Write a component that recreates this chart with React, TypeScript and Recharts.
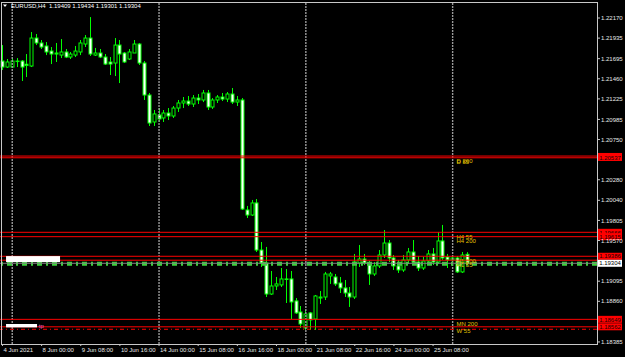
import { ComposedChart, Bar, XAxis, YAxis, ReferenceLine, ReferenceDot } from 'recharts'

// EURUSD H4, 4 Jun 2021 16:00 .. 28 Jun 2021 12:00
const OPEN = [
  1.21667, 1.21597, 1.21597, 1.21662, 1.21667, 1.21630, 1.21609, 1.21936, 1.21878, 1.21843,
  1.21784, 1.21761, 1.21737, 1.21773, 1.21714, 1.21737, 1.21773, 1.21866, 1.21936, 1.21737,
  1.21761, 1.21714, 1.21656, 1.21644, 1.21854, 1.21761, 1.21691, 1.21761, 1.21866, 1.21644,
  1.21270, 1.20955, 1.21037, 1.21002, 1.21060, 1.21025, 1.21118, 1.21177, 1.21200, 1.21165,
  1.21235, 1.21212, 1.21294, 1.21130, 1.21212, 1.21247, 1.21223, 1.21282, 1.21188, 1.21212,
  1.19927, 1.19868, 1.20009, 1.19459, 1.19308, 1.18945, 1.19039, 1.19051, 1.19121, 1.19121,
  1.18864, 1.18735, 1.18548, 1.18724, 1.18653, 1.18898, 1.18910, 1.19156, 1.19144, 1.19074,
  1.19016, 1.18957, 1.18910, 1.19308, 1.19354, 1.19308, 1.19179, 1.19273, 1.19401, 1.19541,
  1.19366, 1.19273, 1.19226, 1.19343, 1.19436, 1.19319, 1.19249, 1.19331, 1.19413, 1.19319,
  1.19565, 1.19378, 1.19343, 1.19366, 1.19203, 1.19409,
]
const HIGH = [
  1.21854, 1.21691, 1.21702, 1.21702, 1.21679, 1.21749, 1.22006, 1.21983, 1.21913, 1.21889,
  1.21831, 1.21878, 1.21924, 1.21808, 1.21773, 1.21843, 1.21913, 1.21971, 1.22181, 1.21820,
  1.21808, 1.21749, 1.21714, 1.21936, 1.21913, 1.21773, 1.21808, 1.21913, 1.21878, 1.21667,
  1.21294, 1.21095, 1.21118, 1.21095, 1.21118, 1.21142, 1.21212, 1.21247, 1.21259, 1.21270,
  1.21282, 1.21329, 1.21329, 1.21235, 1.21270, 1.21294, 1.21305, 1.21352, 1.21259, 1.21235,
  1.19974, 1.20044, 1.20055, 1.19553, 1.19495, 1.19214, 1.19144, 1.19249, 1.19237, 1.19214,
  1.18898, 1.18805, 1.18758, 1.18735, 1.18934, 1.18980, 1.19203, 1.19203, 1.19179, 1.19144,
  1.19109, 1.19027, 1.19413, 1.19518, 1.19413, 1.19331, 1.19319, 1.19459, 1.19693, 1.19576,
  1.19401, 1.19343, 1.19401, 1.19483, 1.19576, 1.19389, 1.19378, 1.19459, 1.19483, 1.19670,
  1.19752, 1.19413, 1.19389, 1.19389, 1.19436, 1.19434,
]
const LOW = [
  1.21562, 1.21586, 1.21586, 1.21597, 1.21434, 1.21480, 1.21597, 1.21854, 1.21808, 1.21737,
  1.21632, 1.21656, 1.21702, 1.21702, 1.21691, 1.21714, 1.21737, 1.21831, 1.21726, 1.21726,
  1.21702, 1.21621, 1.21504, 1.21492, 1.21410, 1.21644, 1.21679, 1.21761, 1.21621, 1.21212,
  1.20908, 1.20908, 1.20955, 1.20955, 1.20978, 1.21002, 1.21072, 1.21118, 1.21142, 1.21130,
  1.21165, 1.21188, 1.21095, 1.21107, 1.21177, 1.21200, 1.21188, 1.21165, 1.21142, 1.19927,
  1.19833, 1.19857, 1.19436, 1.19261, 1.18910, 1.18934, 1.18992, 1.19027, 1.18840, 1.18653,
  1.18712, 1.18548, 1.18525, 1.18525, 1.18525, 1.18829, 1.18875, 1.19063, 1.19039, 1.18957,
  1.18910, 1.18794, 1.18887, 1.19261, 1.19284, 1.19051, 1.19156, 1.19249, 1.19366, 1.19319,
  1.19226, 1.19191, 1.19203, 1.19296, 1.19284, 1.19214, 1.19226, 1.19296, 1.19284, 1.19296,
  1.19343, 1.19249, 1.19284, 1.19191, 1.19191, 1.19301,
]
const CLOSE = [
  1.21597, 1.21656, 1.21667, 1.21667, 1.21597, 1.21615, 1.21936, 1.21878, 1.21831, 1.21773,
  1.21749, 1.21749, 1.21773, 1.21714, 1.21749, 1.21784, 1.21878, 1.21936, 1.21749, 1.21761,
  1.21714, 1.21632, 1.21632, 1.21854, 1.21749, 1.21656, 1.21773, 1.21866, 1.21644, 1.21270,
  1.20943, 1.21049, 1.20990, 1.21060, 1.21025, 1.21118, 1.21177, 1.21200, 1.21165, 1.21235,
  1.21212, 1.21294, 1.21130, 1.21212, 1.21247, 1.21223, 1.21282, 1.21188, 1.21212, 1.19938,
  1.19868, 1.20009, 1.19459, 1.19308, 1.18945, 1.19039, 1.19063, 1.19121, 1.19116, 1.18852,
  1.18724, 1.18595, 1.18712, 1.18642, 1.18922, 1.18910, 1.19179, 1.19179, 1.19063, 1.19016,
  1.18957, 1.18910, 1.19319, 1.19354, 1.19308, 1.19179, 1.19273, 1.19401, 1.19541, 1.19366,
  1.19273, 1.19226, 1.19343, 1.19436, 1.19319, 1.19249, 1.19331, 1.19413, 1.19319, 1.19565,
  1.19366, 1.19343, 1.19366, 1.19203, 1.19401, 1.19304,
]

const SHIFT_SLOTS = 26 // empty space right of the last bar (chart shift)

const TICK_INDEX = [0, 8, 16, 24, 32, 40, 48, 56, 64, 72, 80, 88]
const TICK_LABELS = [
  '4 Jun 2021', '8 Jun 00:00', '9 Jun 08:00', '10 Jun 16:00', '14 Jun 00:00', '15 Jun 08:00',
  '16 Jun 16:00', '18 Jun 00:00', '21 Jun 08:00', '22 Jun 16:00', '24 Jun 00:00', '25 Jun 08:00',
]
const WEEK_SEPARATORS = [2, 32, 62, 92]

const PRICE_TICKS = [
  1.2217, 1.21935, 1.21695, 1.2146, 1.21225, 1.20985, 1.2075,
  1.2028, 1.2004, 1.19805, 1.1957, 1.19095, 1.1886, 1.18385,
]
const PRICE_MIN = 1.18361
const PRICE_MAX = 1.22357

// moving-average levels drawn as horizontal lines
const LEVELS = [1.20557, 1.20537, 1.19666, 1.19615, 1.19386, 1.1934, 1.18649, 1.18562]
const LEVEL_NAMES = ['D 200', 'D 55', 'H4 55', 'H4 200', 'H1 200', 'H1 55', 'MN 200', 'W 55']
// price tags that are visible on the price scale (the others are covered)
const LEVEL_TAGGED = [false, true, true, true, true, false, true, true]
const LEVEL_NAME_BAR = 93
const DASHED_LEVEL = 1.18533
const GREEN_LEVEL = 1.193
const BID = 1.19304

const HEADER = 'EURUSD,H4  1.19409 1.19434 1.19301 1.19304'

const LIME = '#00ff00'
const RED = '#ff0000'
const GOLD = '#e0c000'
const FONT = '"Liberation Sans", Arial, sans-serif'

const data = [
  ...OPEN.map((o, i) => ({ i, o, h: HIGH[i], l: LOW[i], c: CLOSE[i] })),
  ...Array.from({ length: SHIFT_SLOTS }, (_, k) => ({ i: OPEN.length + k, o: null, h: null, l: null, c: null })),
]

function Candle(props: any) {
  const { x, y, width, height, payload } = props
  if (!payload || payload.h == null) return null
  const top = Math.min(y, y + height)
  const bot = Math.max(y, y + height)
  const span = payload.h - payload.l
  const k = span > 0 ? (bot - top) / span : 0
  const py = (p: number) => top + (payload.h - p) * k
  const cx = Math.round(x + width / 2 - 0.5) + 0.5
  const yo = py(payload.o)
  const yc = py(payload.c)
  const bTop = Math.min(yo, yc)
  const bH = Math.max(Math.abs(yo - yc), 0.5)
  const bear = payload.c < payload.o
  return (
    <g>
      <line x1={cx} x2={cx} y1={top} y2={bot} stroke={LIME} strokeWidth={1} />
      <rect x={cx - 1.5} y={bTop} width={3} height={bH} fill={bear ? '#ffffff' : '#000000'} stroke={LIME} strokeWidth={1} />
    </g>
  )
}

function TimeTick(props: any) {
  const { x, y, payload } = props
  const n = TICK_INDEX.indexOf(payload.value)
  if (n < 0) return <g />
  return (
    <g>
      <line x1={x} x2={x} y1={y} y2={y + 2} stroke="#c8c8c8" />
      <text x={x + 1} y={y + 8} fontSize={6} fill="#e8e8e8" textAnchor="start">{TICK_LABELS[n]}</text>
    </g>
  )
}

function PriceTag({ viewBox, value, bg, fg, tall }: any) {
  if (!viewBox) return null
  const x = viewBox.x + viewBox.width + 1
  const y = viewBox.y
  const h = tall ? 8 : 7
  return (
    <g>
      <rect x={x} y={y - h / 2 - (tall ? 0.8 : 0)} width={24} height={h} fill={bg} />
      <text x={x + 12} y={y + 2.2} textAnchor="middle" fontSize={6} fill={fg}>{value.toFixed(5)}</text>
    </g>
  )
}

function LevelName({ cx, cy, name }: any) {
  return <text x={cx - 1} y={cy + 6.5} fontSize={6} fill={GOLD}>{name}</text>
}

export default function App() {
  return (
    <div style={{ position: 'fixed', left: 0, top: 0, width: 625, height: 357, background: '#000', fontFamily: FONT }}>
      <ComposedChart width={625} height={357} data={data} margin={{ top: 2, right: 0, bottom: 0, left: 0 }}>
        <XAxis
          dataKey="i"
          type="category"
          interval={0}
          height={13}
          tickSize={0}
          tickMargin={0}
          axisLine={false}
          tickLine={false}
          tick={<TimeTick />}
        />
        <YAxis
          orientation="right"
          width={28}
          domain={[PRICE_MIN, PRICE_MAX]}
          allowDataOverflow
          ticks={PRICE_TICKS}
          interval={0}
          tickSize={3}
          tickMargin={1}
          axisLine={false}
          tickLine={{ stroke: '#c8c8c8' }}
          tick={{ fill: '#e8e8e8', fontSize: 6 }}
          tickFormatter={(v: number) => v.toFixed(5)}
        />
        {WEEK_SEPARATORS.map((w) => (
          <ReferenceLine key={'w' + w} x={w} stroke="#9a9a9a" strokeWidth={1.4} strokeDasharray="2 1" />
        ))}
        <Bar
          dataKey={(d: any) => (d.h == null ? null : [d.l, d.h])}
          shape={(p: any) => <Candle {...p} />}
          isAnimationActive={false}
        />
        <ReferenceLine y={GREEN_LEVEL} stroke="#3cd43c" strokeWidth={4} strokeDasharray="5 4 2 4" />
        <ReferenceLine y={DASHED_LEVEL} stroke={RED} strokeWidth={1} strokeDasharray="4 3 1 3" />
        {LEVELS.map((v, k) => (
          <ReferenceLine
            key={'l' + v}
            y={v}
            stroke={RED}
            strokeWidth={1}
            label={LEVEL_TAGGED[k] ? (p: any) => <PriceTag {...p} value={v} bg={RED} fg="#200000" tall={k === 1} /> : undefined}
          />
        ))}
        {LEVELS.map((v, k) => (
          <ReferenceDot
            key={'n' + v}
            x={LEVEL_NAME_BAR}
            y={v}
            r={0}
            shape={(p: any) => <LevelName {...p} name={LEVEL_NAMES[k]} />}
          />
        ))}
        <ReferenceLine
          y={BID}
          stroke="#808080"
          strokeWidth={1}
          label={(p: any) => <PriceTag {...p} value={BID} bg="#ffffff" fg="#000000" />}
        />
        <ReferenceDot
          x={1}
          y={1.19353}
          r={0}
          shape={(p: any) => <rect x={p.cx - 1.3} y={p.cy - 3} width={54} height={6} fill="#ffffff" />}
        />
        <ReferenceDot
          x={1}
          y={1.18576}
          r={0}
          shape={(p: any) => (
            <g>
              <rect x={p.cx - 1.3} y={p.cy - 1.6} width={31} height={3.4} fill="#ffffff" />
              <text x={p.cx + 31.5} y={p.cy + 2} fontSize={6} fill="#ff66cc">tp</text>
            </g>
          )}
        />
      </ComposedChart>
      <div
        style={{
          position: 'absolute', left: 1, top: 2, width: 597, height: 343,
          border: '1px solid #c8c8c8', boxSizing: 'border-box', pointerEvents: 'none',
        }}
      />
      <svg width={200} height={12} style={{ position: 'absolute', left: 0, top: 0 }}>
        <polygon points="3,4.5 7,4.5 5,7" fill="#ffffff" />
        <text x={11} y={8} fontSize={6} fill="#ffffff" fontFamily={FONT} xmlSpace="preserve">{HEADER}</text>
      </svg>
    </div>
  )
}
